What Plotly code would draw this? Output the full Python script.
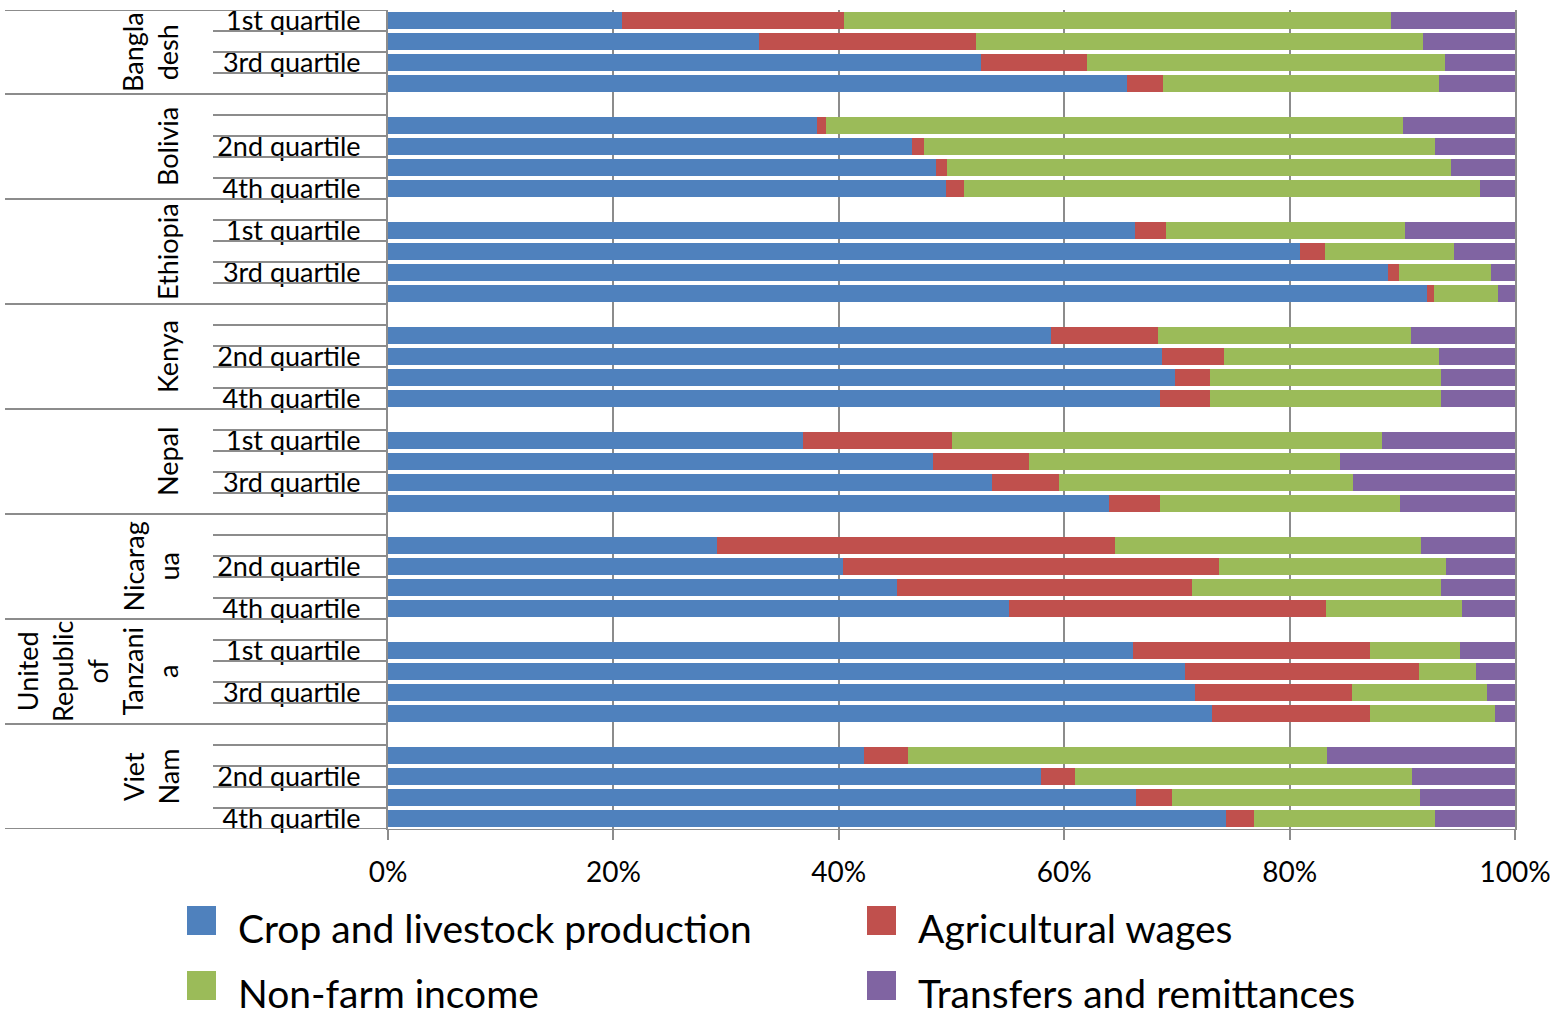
import plotly.graph_objects as go

# ---------------- data ----------------
countries = ["Bangladesh", "Bolivia", "Ethiopia", "Kenya", "Nepal",
             "Nicaragua", "United Republic of Tanzania", "Viet Nam"]
country_labels = ["Bangla<br>desh", "Bolivia", "Ethiopia", "Kenya", "Nepal",
                  "Nicarag<br>ua", "United<br>Republic<br>of<br>Tanzani<br>a", "Viet<br>Nam"]
quartiles = ["1st quartile", "2nd quartile", "3rd quartile", "4th quartile"]

series_names = ["Crop and livestock production", "Agricultural wages",
                "Non-farm income", "Transfers and remittances"]

crop = [20.8, 32.9, 52.6, 65.6,
        38.1, 46.5, 48.6, 49.5,
        66.3, 80.9, 88.7, 92.2,
        58.8, 68.7, 69.8, 68.5,
        36.8, 48.4, 53.6, 64.0,
        29.2, 40.4, 45.2, 55.1,
        66.1, 70.7, 71.6, 73.1,
        42.2, 57.9, 66.4, 74.4]
wages = [19.7, 19.3, 9.4, 3.2,
         0.8, 1.1, 1.0, 1.6,
         2.7, 2.2, 1.0, 0.6,
         9.5, 5.5, 3.1, 4.4,
         13.2, 8.5, 5.9, 4.5,
         35.3, 33.3, 26.1, 28.1,
         21.0, 20.8, 13.9, 14.0,
         3.9, 3.1, 3.2, 2.4]
nonfarm = [48.5, 39.6, 31.8, 24.5,
           51.2, 45.3, 44.7, 45.8,
           21.2, 11.5, 8.2, 5.7,
           22.5, 19.1, 20.5, 20.5,
           38.2, 27.6, 26.1, 21.3,
           27.2, 20.2, 22.1, 12.1,
           8.0, 5.0, 12.0, 11.1,
           37.2, 29.9, 22.0, 16.1]
transfers = [11.0, 8.2, 6.2, 6.7,
             9.9, 7.1, 5.7, 3.1,
             9.8, 5.4, 2.1, 1.5,
             9.2, 6.7, 6.6, 6.6,
             11.8, 15.5, 14.4, 10.2,
             8.3, 6.1, 6.6, 4.7,
             4.9, 3.5, 2.5, 1.8,
             16.7, 9.1, 8.4, 7.1]

x_ticks = [0, 20, 40, 60, 80, 100]
x_tick_labels = ["0%", "20%", "40%", "60%", "80%", "100%"]

# ---------------- styles ----------------
colors = ["#4F81BD", "#C0504D", "#9BBB59", "#8064A2"]
GRID = "#8C8C8C"
FONT = "Lato"
W, H = 1550, 1016
ML, MR, MT, MB = 388, 35, 10, 187
PW, PH = W - ML - MR, H - MT - MB


def px_x(px):
    return (px - ML) / PW


def px_y(py):
    return (H - MB - py) / PH


# ---------------- category slots (Excel layout: blank row before each country but first) ----------------
slot_labels = []
bar_slots = []
group_edges = [-0.5]
for ci, c in enumerate(countries):
    if ci > 0:
        slot_labels.append("")
    for q in quartiles:
        bar_slots.append(len(slot_labels))
        slot_labels.append(q)
    group_edges.append(len(slot_labels) - 0.5)
n_slots = len(slot_labels)
group_starts = [-0.5] + group_edges[1:-1]

fig = go.Figure()
for name, vals, col in zip(series_names, [crop, wages, nonfarm, transfers], colors):
    fig.add_trace(go.Bar(
        x=vals, y=bar_slots, orientation="h", name=name,
        marker=dict(color=col, line=dict(width=0)),
        width=0.8, showlegend=False,
    ))

shapes = []
# category separator lines in label area (long at country boundaries)
for k in range(n_slots + 1):
    yv = k - 0.5
    x0 = px_x(5) if yv in group_edges else px_x(213)
    shapes.append(dict(type="line", xref="paper", yref="y", x0=x0, x1=0, y0=yv, y1=yv,
                       line=dict(color=GRID, width=2)))

annotations = []
# country labels (rotated)
for gi, lab in enumerate(country_labels):
    yc = (group_starts[gi] + group_edges[gi + 1]) / 2
    annotations.append(dict(text=lab, xref="paper", yref="y", x=px_x(186), y=yc,
                            xanchor="right", yanchor="middle", textangle=-90,
                            showarrow=False, align="center",
                            font=dict(family=FONT, size=27, color="black")))

# manual legend (large square keys like the original)
leg_pos = [(187, 906), (867, 906), (187, 971), (867, 971)]
for name, col, (lx, ly) in zip(series_names, colors, leg_pos):
    shapes.append(dict(type="rect", xref="paper", yref="paper",
                       x0=px_x(lx), x1=px_x(lx + 29), y0=px_y(ly), y1=px_y(ly + 29),
                       fillcolor=col, line=dict(width=0)))
    annotations.append(dict(text=name, xref="paper", yref="paper",
                            x=px_x(lx + 49), y=px_y(ly + 22), xanchor="left", yanchor="middle",
                            showarrow=False, font=dict(family=FONT, size=39, color="black")))

fig.update_layout(
    width=W, height=H,
    margin=dict(l=ML, r=MR, t=MT, b=MB, pad=0, autoexpand=False),
    barmode="stack", barnorm="percent", bargap=0.2,
    plot_bgcolor="white", paper_bgcolor="white",
    font=dict(family=FONT, size=27, color="black"),
    shapes=shapes, annotations=annotations,
    showlegend=False,
    xaxis=dict(range=[0, 100], tickmode="array", tickvals=x_ticks, ticktext=x_tick_labels,
               showgrid=True, gridcolor=GRID, gridwidth=2, zeroline=False,
               showline=True, linecolor=GRID, linewidth=1, automargin=False,
               ticks="outside", ticklen=10, tickwidth=2, tickcolor=GRID,
               ticklabelstandoff=8, ticklabeloverflow="allow",
               tickfont=dict(family=FONT, size=28, color="black")),
    yaxis=dict(range=[n_slots - 0.5, -0.5], tickmode="array", tickvals=list(range(0, n_slots, 2)),
               ticktext=[slot_labels[i] for i in range(0, n_slots, 2)],
               showgrid=False, zeroline=False, showline=True, mirror=True,
               linecolor=GRID, linewidth=2,
               ticks="", ticklabelstandoff=20, automargin=False,
               tickfont=dict(family=FONT, size=27, color="black")),
)

fig.write_html("out.html", config={"displayModeBar": False},
               post_script="document.body.style.margin='0';document.body.style.overflow='hidden';")
